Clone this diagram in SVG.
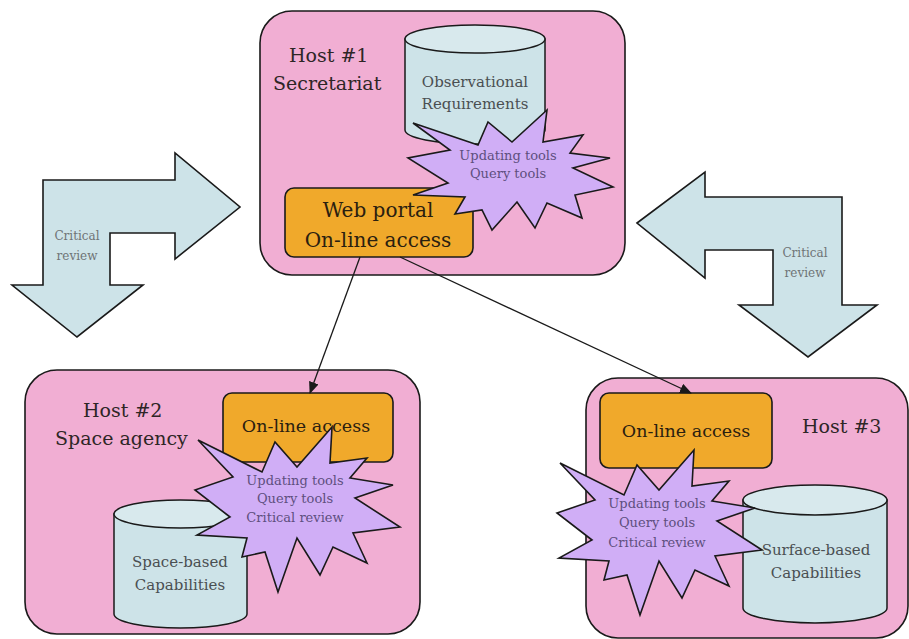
<svg xmlns="http://www.w3.org/2000/svg" width="909" height="639" viewBox="0 0 909 639">
  <style>
    .host { fill: #f1aed3; stroke: #1a1a1a; stroke-width: 1.6; }
    .portal { fill: #f0a92b; stroke: #1a1a1a; stroke-width: 1.6; }
    .cyl { fill: #cde3e8; stroke: #1a1a1a; stroke-width: 1.5; }
    .cyltop { fill: #d8e9ed; stroke: #1a1a1a; stroke-width: 1.5; }
    .star { fill: #d0aef6; stroke: #1a1a1a; stroke-width: 1.6; stroke-linejoin: miter; }
    .bend { fill: #cde3e8; stroke: #1a1a1a; stroke-width: 1.6; }
    .conn { fill: none; stroke: #1a1a1a; stroke-width: 1.3; }
    text { font-family: "DejaVu Serif", "Liberation Serif", serif; }
    .hostlbl { font-size: 19px; fill: #2e2626; }
    .portallbl { font-size: 20px; fill: #2a2010; text-anchor: middle; }
    .accesslbl { font-size: 17.5px; fill: #2a2010; text-anchor: middle; }
    .cyllbl { font-size: 15px; fill: #4a4f52; text-anchor: middle; }
    .starlbl { font-size: 13px; fill: #5e4f7e; text-anchor: middle; }
    .revlbl { font-size: 12px; fill: #6f7476; text-anchor: middle; }
  </style>
  <defs>
    <marker id="arrowhead" markerWidth="12" markerHeight="10" refX="11" refY="5" orient="auto" markerUnits="userSpaceOnUse">
      <path d="M0,0 L12,5 L0,10 Z" fill="#1a1a1a"/>
    </marker>
    <!-- twelve-spike burst used for the tool callouts -->
    <path id="burst" d="M8,20 L72,52 L85,22 L107,47 L142,7 L140,43 L177,38 L160,58 L203,65 L165,78 L210,107 L163,113 L177,143 L143,127 L130,155 L107,118 L88,172 L75,132 L52,137 L57,118 L7,115 L40,97 L5,70 L43,57 Z"/>
  </defs>

  <!-- bent "critical review" arrows -->
  <g id="review-left">
    <polygon class="bend" points="43,180 175,180 175,153 240,207 175,259 175,233 110,233 110,285 143,285 77,337 12,285 43,285"/>
    <text class="revlbl" x="77" y="240">Critical</text>
    <text class="revlbl" x="77" y="260">review</text>
  </g>
  <g id="review-right">
    <polygon class="bend" points="637,223 705,172 705,197 842,197 842,305 877,305 808,357 739,305 773,305 773,250 705,250 705,278"/>
    <text class="revlbl" x="805" y="257">Critical</text>
    <text class="revlbl" x="805" y="277">review</text>
  </g>

  <!-- Host #1 -->
  <g id="host1">
    <rect class="host" x="260" y="11" width="365" height="264" rx="32" ry="32"/>
    <text class="hostlbl" x="289" y="62">Host #1</text>
    <text class="hostlbl" x="273" y="90">Secretariat</text>
    <g id="host1-db">
      <path class="cyl" d="M405,39 V130 A70,14 0 0 0 545,130 V39 Z"/>
      <ellipse class="cyltop" cx="475" cy="39" rx="70" ry="14"/>
      <text class="cyllbl" x="475" y="87">Observational</text>
      <text class="cyllbl" x="475" y="109">Requirements</text>
    </g>
    <g id="host1-portal">
      <rect class="portal" x="285" y="188" width="188" height="69" rx="9" ry="9"/>
      <text class="portallbl" x="378" y="217">Web portal</text>
      <text class="portallbl" x="378" y="247">On-line access</text>
    </g>
    <g id="host1-tools">
      <path class="star" d="M413,123 L478,145 L488,122 L512,142 L547,110 L543,142 L583,135 L570,153 L610,158 L573,168 L613,187 L575,195 L582,218 L547,203 L535,228 L517,202 L492,230 L482,210 L455,214 L465,197 L413,195 L448,183 L408,158 L450,150 Z"/>
      <text class="starlbl" x="508" y="160">Updating tools</text>
      <text class="starlbl" x="508" y="178">Query tools</text>
    </g>
  </g>

  <!-- Host #2 -->
  <g id="host2">
    <rect class="host" x="25" y="370" width="395" height="264" rx="32" ry="32"/>
    <text class="hostlbl" x="83" y="417">Host #2</text>
    <text class="hostlbl" x="55" y="445">Space agency</text>
    <g id="host2-access">
      <rect class="portal" x="223" y="393" width="170" height="69" rx="9" ry="9"/>
      <text class="accesslbl" x="306" y="432">On-line access</text>
    </g>
    <g id="host2-db">
      <path class="cyl" d="M114,514 V614 A66.5,14 0 0 0 247,614 V514 Z"/>
      <ellipse class="cyltop" cx="180.5" cy="514" rx="66.5" ry="14"/>
      <text class="cyllbl" x="180" y="567">Space-based</text>
      <text class="cyllbl" x="180" y="590">Capabilities</text>
    </g>
    <g id="host2-tools">
      <use href="#burst" class="star" transform="translate(190,420)"/>
      <text class="starlbl" x="295" y="485">Updating tools</text>
      <text class="starlbl" x="295" y="503">Query tools</text>
      <text class="starlbl" x="295" y="522">Critical review</text>
    </g>
  </g>

  <!-- Host #3 -->
  <g id="host3">
    <rect class="host" x="586" y="378" width="322" height="260" rx="32" ry="32"/>
    <text class="hostlbl" x="802" y="433">Host #3</text>
    <g id="host3-access">
      <rect class="portal" x="600" y="393" width="172" height="75" rx="9" ry="9"/>
      <text class="accesslbl" x="686" y="437">On-line access</text>
    </g>
    <g id="host3-db">
      <path class="cyl" d="M743,500 V608 A72,15 0 0 0 887,608 V500 Z"/>
      <ellipse class="cyltop" cx="815" cy="500" rx="72" ry="15"/>
      <text class="cyllbl" x="816" y="555">Surface-based</text>
      <text class="cyllbl" x="816" y="578">Capabilities</text>
    </g>
    <g id="host3-tools">
      <use href="#burst" class="star" transform="translate(552,443)"/>
      <text class="starlbl" x="657" y="508">Updating tools</text>
      <text class="starlbl" x="657" y="527">Query tools</text>
      <text class="starlbl" x="657" y="547">Critical review</text>
    </g>
  </g>

  <!-- portal links to the other hosts -->
  <g id="connectors">
    <line class="conn" x1="360" y1="257" x2="310" y2="393" marker-end="url(#arrowhead)"/>
    <line class="conn" x1="400" y1="257" x2="691" y2="393" marker-end="url(#arrowhead)"/>
  </g>
</svg>
